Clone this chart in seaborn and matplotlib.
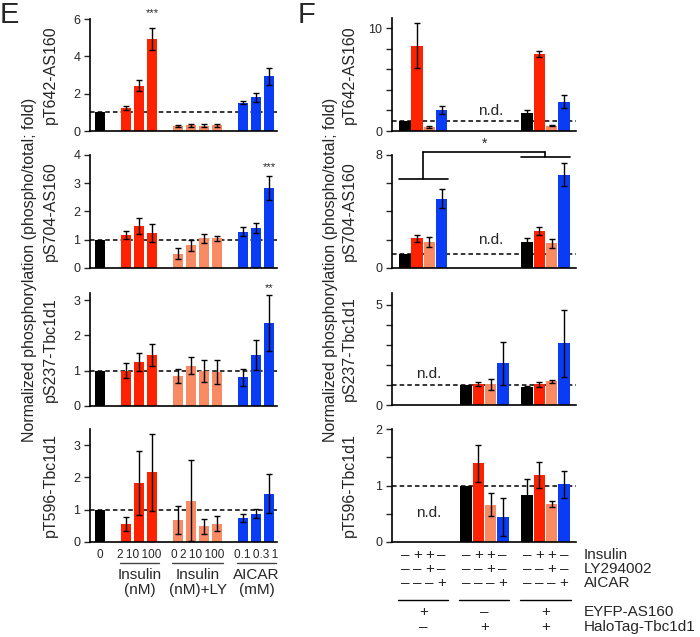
import numpy as np
import pandas as pd
import matplotlib
matplotlib.use("Agg")
import matplotlib.pyplot as plt
import matplotlib.transforms as mtransforms
import seaborn as sns

nan = np.nan

# ==========================
# Panel E data
# ==========================
E_POS = [0, 2, 3, 4, 6, 7, 8, 9, 11, 12, 13]
E_GRP = ["ctrl", "ins", "ins", "ins", "ly", "ly", "ly", "ly", "aicar", "aicar", "aicar"]
E_TICKS = ["0", "2", "10", "100", "0", "2", "10", "100", "0.1", "0.3", "1"]
E_GROUPS = ["Insulin\n(nM)", "Insulin\n(nM)+LY", "AICAR\n(mM)"]

E_T642 = [1.0, 1.23, 2.43, 4.93, 0.27, 0.30, 0.28, 0.32, 1.52, 1.80, 2.93]
E_T642_ERR = [0, 0.11, 0.28, 0.60, 0.05, 0.07, 0.07, 0.08, 0.07, 0.25, 0.45]
E_S704 = [1.0, 1.16, 1.49, 1.24, 0.51, 0.80, 1.05, 1.05, 1.29, 1.42, 2.82]
E_S704_ERR = [0, 0.15, 0.28, 0.33, 0.20, 0.20, 0.17, 0.10, 0.15, 0.18, 0.42]
E_S237 = [1.0, 1.00, 1.24, 1.45, 0.85, 1.14, 1.00, 0.95, 0.82, 1.44, 2.35]
E_S237_ERR = [0, 0.22, 0.26, 0.31, 0.21, 0.24, 0.31, 0.34, 0.24, 0.42, 0.78]
E_T596 = [1.0, 0.56, 1.83, 2.16, 0.69, 1.28, 0.49, 0.57, 0.74, 0.88, 1.50]
E_T596_ERR = [0, 0.22, 0.99, 1.20, 0.43, 1.26, 0.23, 0.24, 0.12, 0.13, 0.61]

# ==========================
# Panel F data (nan = n.d.)
# ==========================
F_POS = [0, 1, 2, 3, 5, 6, 7, 8, 10, 11, 12, 13]
F_GRP = ["ctrl", "ins", "ly", "aicar"] * 3
F_T642 = [1.0, 8.3, 0.42, 2.05, nan, nan, nan, nan, 1.8, 7.5, 0.52, 2.86]
F_T642_ERR = [0, 2.2, 0.08, 0.42, nan, nan, nan, nan, 0.25, 0.25, 0.08, 0.60]
F_S704 = [1.0, 2.1, 1.81, 4.92, nan, nan, nan, nan, 1.81, 2.59, 1.74, 6.61]
F_S704_ERR = [0, 0.27, 0.35, 0.68, nan, nan, nan, nan, 0.33, 0.28, 0.32, 0.82]
F_S237 = [nan, nan, nan, nan, 1.0, 1.05, 1.03, 2.08, 0.88, 1.03, 1.18, 3.09]
F_S237_ERR = [nan, nan, nan, nan, 0, 0.12, 0.27, 1.06, 0.06, 0.13, 0.08, 1.68]
F_T596 = [nan, nan, nan, nan, 1.0, 1.39, 0.66, 0.44, 0.83, 1.18, 0.67, 1.02]
F_T596_ERR = [nan, nan, nan, nan, 0, 0.32, 0.20, 0.34, 0.28, 0.23, 0.05, 0.24]

INSULIN = ["–", "+", "+", "–"]
LY294002 = ["–", "–", "+", "–"]
AICAR = ["–", "–", "–", "+"]
EYFP = ["+", "–", "+"]
HALO = ["–", "+", "+"]

PANELS = ["pT642-AS160", "pS704-AS160", "pS237-Tbc1d1", "pT596-Tbc1d1"]
PAL = {"ctrl": "#000000", "ins": "#FF2200", "ly": "#F98B64", "aicar": "#0A3CF5"}

sns.set_style("ticks")
plt.rcParams["font.family"] = ["Liberation Sans", "DejaVu Sans"]

W, H = 700, 637
fig = plt.figure(figsize=(W / 100, H / 100), dpi=100)

ROWS = [(19, 131), (155, 268), (293, 406), (429, 542)]


def fy(py):
    return 1 - py / H


def make_ax(left, right, row):
    top, bot = row
    return fig.add_axes([left / W, fy(bot), (right - left) / W, (bot - top) / H])


def draw_bars(ax, pos, grp, vals, errs, width):
    df = pd.DataFrame({"pos": pos, "grp": grp, "val": vals, "err": errs}).dropna()
    ax.axhline(1, color="black", lw=1.1, ls=(0, (3, 2)), zorder=0.5)
    sns.barplot(data=df, x="pos", y="val", hue="grp", palette=PAL,
                native_scale=True, dodge=False, width=width, errorbar=None,
                saturation=1, linewidth=0, legend=False, ax=ax)
    e = df[df["err"] > 0]
    ax.errorbar(e["pos"], e["val"], yerr=e["err"], fmt="none",
                ecolor="black", elinewidth=1, capsize=2, capthick=1, zorder=3)
    ax.set_xlabel("")
    ax.set_ylabel("")


def style_ax(ax):
    sns.despine(ax=ax)
    for s in ["left", "bottom"]:
        ax.spines[s].set_linewidth(1.2)
        ax.spines[s].set_color("black")
    ax.tick_params(axis="y", length=4, width=1, labelsize=9, pad=3)


# ==========================
# Panel E
# ==========================
E_DATA = [(E_T642, E_T642_ERR), (E_S704, E_S704_ERR), (E_S237, E_S237_ERR), (E_T596, E_T596_ERR)]
E_YLIM = [6, 4, 3.2, 3.5]
E_YTICKS = [[0, 2, 4, 6], [0, 1, 2, 3, 4], [0, 1, 2, 3], [0, 1, 2, 3]]
E_L, E_R = 90, 277

# dose labels are packed tightly under each group, as in the original
tick_df = pd.DataFrame({"pos": E_POS, "grp": E_GRP, "lab": E_TICKS})
tick_grp = tick_df.groupby("grp", sort=False).agg(pos=("pos", "mean"),
                                                  lab=("lab", "\u2009".join))

e_axes = []
for i, (vals, errs) in enumerate(E_DATA):
    ax = make_ax(E_L, E_R, ROWS[i])
    draw_bars(ax, E_POS, E_GRP, vals, errs, 0.8)
    ax.set_xlim(-0.77, 13.6)
    ax.set_ylim(0, E_YLIM[i])
    ax.set_yticks(E_YTICKS[i])
    style_ax(ax)
    if i < 3:
        ax.set_xticks([])
    else:
        ax.set_xticks(tick_grp["pos"], tick_grp["lab"])
        ax.tick_params(axis="x", length=0, labelsize=8.5, pad=5)
    ax.set_ylabel(PANELS[i], fontsize=11.5)
    ax.yaxis.set_label_coords((58 - E_L) / (E_R - E_L), 0.5)
    e_axes.append(ax)

e_axes[0].text(4, 6.05, "***", ha="center", va="bottom", fontsize=8, clip_on=False)
e_axes[1].text(13, 3.4, "***", ha="center", va="bottom", fontsize=8, clip_on=False)
e_axes[2].text(13, 3.2, "**", ha="center", va="bottom", fontsize=8, clip_on=False)

trE = mtransforms.blended_transform_factory(e_axes[3].transData, fig.transFigure)
for (x0, x1), lab in zip([(1.55, 4.5), (5.55, 9.45), (10.55, 13.5)], E_GROUPS):
    e_axes[3].plot([x0, x1], [fy(563), fy(563)], color="#444444", lw=1,
                   transform=trE, clip_on=False)
    e_axes[3].text((x0 + x1) / 2, fy(568), lab, ha="center", va="top",
                   fontsize=11, linespacing=1.05, transform=trE)

fig.text(30 / W, fy(270), "Normalized phosphorylation (phospho/total; fold)",
         rotation=90, ha="center", va="center", fontsize=11.5)
fig.text(0 / W, 0.998, "E", ha="left", va="top", fontsize=21)

# ==========================
# Panel F
# ==========================
F_DATA = [(F_T642, F_T642_ERR), (F_S704, F_S704_ERR), (F_S237, F_S237_ERR), (F_T596, F_T596_ERR)]
F_YLIM = [11, 8, 5.6, 2]
F_YTICKS = [[0, 2, 4, 6, 8, 10], [0, 2, 4, 6, 8], [0, 1, 2, 3, 4, 5], [0, 0.5, 1, 1.5, 2]]
F_YLABS = [["0", "", "", "", "", "10"], ["0", "", "", "", "8"],
           ["0", "", "", "", "", "5"], ["0", "", "1", "", "2"]]
F_ND = [(7.0, 1.9), (7.0, 1.95), (1.9, 1.55), (1.9, 0.52)]
F_L, F_R = 392, 576
F_ROWS = [(18, 131), (155, 268), (293, 405), (429, 542)]

f_axes = []
for i, (vals, errs) in enumerate(F_DATA):
    ax = make_ax(F_L, F_R, F_ROWS[i])
    draw_bars(ax, F_POS, F_GRP, vals, errs, 0.95)
    ax.set_xlim(-1.07, 14.0)
    ax.set_ylim(0, F_YLIM[i])
    ax.set_yticks(F_YTICKS[i], F_YLABS[i])
    ax.set_xticks([])
    style_ax(ax)
    ax.set_ylabel(PANELS[i], fontsize=11.5)
    ax.yaxis.set_label_coords((357 - F_L) / (F_R - F_L), 0.5)
    ax.text(F_ND[i][0], F_ND[i][1], "n.d.", ha="center", va="center", fontsize=11)
    f_axes.append(ax)

# significance bracket on pS704
axb = f_axes[1]
kw = dict(color="black", lw=1.2, clip_on=False)
axb.plot([-0.5, 3.5], [6.28, 6.28], **kw)
axb.plot([1.45, 1.45], [6.28, 8.21], **kw)
axb.plot([1.45, 11.5], [8.21, 8.21], **kw)
axb.plot([9.5, 13.5], [7.88, 7.88], **kw)
axb.plot([11.5, 11.5], [7.88, 8.21], **kw)
axb.text(6.5, 8.3, "*", ha="center", va="bottom", fontsize=10, clip_on=False)

# treatment table
axt = f_axes[3]
trF = mtransforms.blended_transform_factory(axt.transData, fig.transFigure)
rows = [(INSULIN, "Insulin", 555), (LY294002, "LY294002", 569), (AICAR, "AICAR", 583)]
for g in range(3):
    for j in range(4):
        x = F_POS[g * 4 + j]
        for signs, _, py in rows:
            axt.text(x, fy(py), signs[j], ha="center", va="center", fontsize=11, transform=trF)
    x0, x1 = F_POS[g * 4] - 0.55, F_POS[g * 4 + 3] + 0.55
    axt.plot([x0, x1], [fy(600), fy(600)], color="black", lw=1, transform=trF, clip_on=False)
    axt.text((x0 + x1) / 2, fy(612), EYFP[g], ha="center", va="center", fontsize=11, transform=trF)
    axt.text((x0 + x1) / 2, fy(627), HALO[g], ha="center", va="center", fontsize=11, transform=trF)

for _, lab, py in rows + [(None, "EYFP-AS160", 612), (None, "HaloTag-Tbc1d1", 627)]:
    fig.text(584 / W, fy(py), lab, ha="left", va="center", fontsize=11)

fig.text(330 / W, fy(270), "Normalized phosphorylation (phospho/total; fold)",
         rotation=90, ha="center", va="center", fontsize=11.5)
fig.text(298 / W, 0.998, "F", ha="left", va="top", fontsize=21)

fig.savefig("out.png", dpi=100)
